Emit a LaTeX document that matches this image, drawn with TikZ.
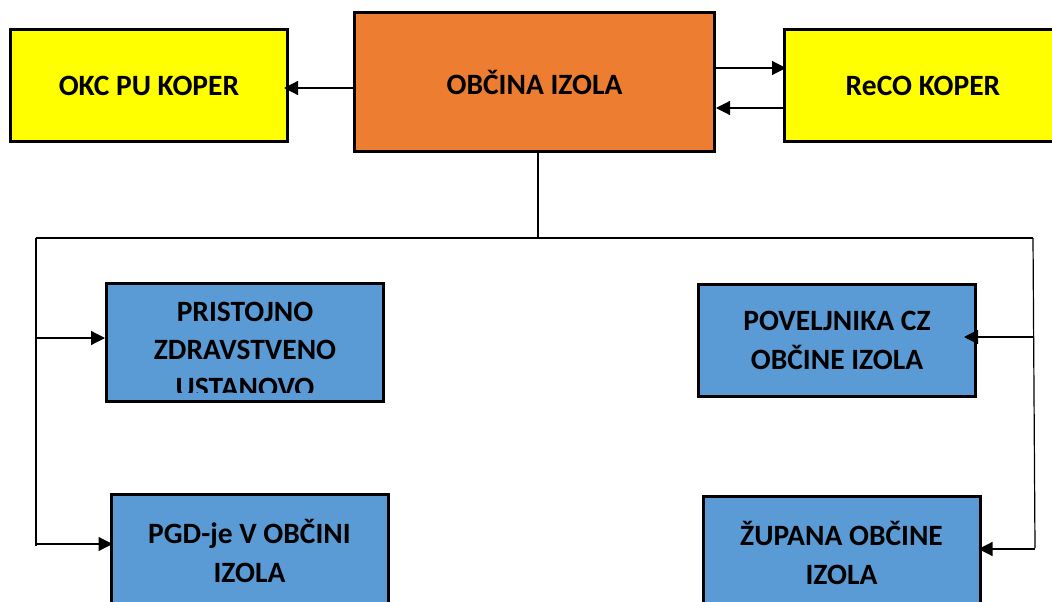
\documentclass[tikz,border=0pt]{standalone}
\usepackage{fontspec}
\setmainfont{Carlito}
\usepackage{tikz}
\usetikzlibrary{arrows.meta}
\definecolor{obcina}{HTML}{ED7D31}
\definecolor{zunanji}{HTML}{FFFF00}
\definecolor{enota}{HTML}{5B9BD5}

\begin{document}
\begin{tikzpicture}[x=1pt,y=-1pt,
		box/.style={draw=black,line width=3pt,minimum width=277pt,minimum height=112pt,inner sep=0pt,align=center,font=\fontsize{29.5}{39}\selectfont\bfseries},
		besedilo/.style={inner sep=0pt,align=center,font=\fontsize{29.5}{38}\selectfont\bfseries},
		vod/.style={line width=1.2pt},
		arr/.style={vod,-{Triangle[length=14pt,width=14pt]}}]
			\useasboundingbox (0,0) rectangle (1052,602);
			\node[box,fill=obcina,minimum width=360pt,minimum height=139pt] (obc) at (534.5,82) {OBČINA IZOLA};
			\node[box,fill=zunanji] (okc) at (149,85.5) {OKC PU KOPER};
			\node[box,fill=zunanji] (reco) at (923,85.5) {ReCO KOPER};
			\node[box,fill=enota,minimum height=118pt] (pzu) at (245,342.5) {};
			\begin{scope}
				\clip (pzu.north west) rectangle ([yshift=11pt]pzu.south east);
				\node[besedilo,anchor=north] (pzut) at ([yshift=-20pt]pzu.north) {PRISTOJNO\\ZDRAVSTVENO\\USTANOVO};
			\end{scope}
			\node[box,fill=enota] (pgd) at (249.5,550.5) {PGD-je V OBČINI\\IZOLA};
			\node[box,fill=enota] (cz) at (837,340.5) {POVELJNIKA CZ\\OBČINE IZOLA};
			\node[box,fill=enota] (zup) at (841.5,552.5) {ŽUPANA OBČINE\\IZOLA};
			\draw[arr,shorten >=-5pt] ([yshift=-6pt]obc.west) -- ([yshift=-6pt]obc.west -| okc.east);
			\draw[arr,shorten >=-3pt] ([yshift=14pt]obc.east) -- ([yshift=14pt]obc.east -| reco.west);
			\draw[arr] ([yshift=-26pt]obc.east -| reco.west) -- ([yshift=-26pt]obc.east);
			\coordinate (lbus) at (36,238);
			\coordinate (rbus) at (1033,238);
			\coordinate (lkon) at (36,546);
			\coordinate (rkon) at (1035,548);
			\draw[vod] ([xshift=3.5pt]obc.south) -- ([xshift=3.5pt]obc.south |- lbus);
			\draw[vod] (lbus) -- (rbus);
			\draw[vod] (lbus) -- (lkon);
			\draw[vod] (rbus) -- (rkon);
			\draw[arr] ([yshift=4.5pt]pzu.west -| lbus) -- ([yshift=4.5pt]pzu.west);
			\draw[arr,shorten >=-3pt] ([yshift=6.5pt]pgd.west -| lkon) -- ([yshift=6.5pt]pgd.west);
			\draw[arr,shorten >=-13pt] ([yshift=3.5pt]cz.east -| rbus) -- ([yshift=3.5pt]cz.east);
			\draw[arr,shorten >=-3pt] ([yshift=3.5pt]zup.east -| rkon) -- ([yshift=3.5pt]zup.east);
		\end{tikzpicture}
\end{document}
